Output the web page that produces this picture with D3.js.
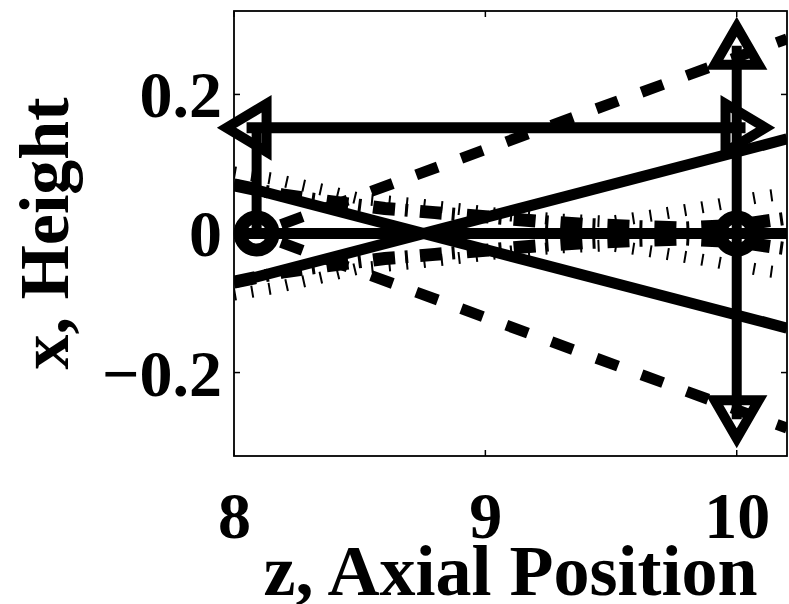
<!DOCTYPE html>
<html><head><meta charset="utf-8">
<script src="https://cdn.jsdelivr.net/npm/d3@7"></script>
<style>
body{margin:0;background:#fff}
text{font-family:"Liberation Serif","Times New Roman",serif;font-weight:bold;fill:#000}
</style>
</head><body>
<svg id="c" width="789" height="604"></svg>
<script>
// ---- data ----
const xTicks = [8, 9, 10];
const xTickLabels = ["8", "9", "10"];
const yTicks = [-0.2, 0, 0.2];
const yTickLabels = ["\u22120.2", "0", "0.2"];
const xLabel = "z, Axial Position";
const yLabel = "x, Height";

const axisZ = [8, 10.2];
const axisX = [0, 0];

const rayZ = [8, 10.2];
const rayDownX = [0.071, -0.136];
const rayUpX = [-0.071, 0.136];

const coneZ = [8.09, 10.2];
const coneUpX = [0, 0.28];
const coneDownX = [0, -0.28];

const dotZ = [8.0, 8.15, 8.35, 8.5, 8.7, 8.9, 9.1, 9.3, 9.5, 9.7, 9.9, 10.1, 10.2];
const dotUpX = [0.088, 0.079, 0.063, 0.05, 0.043, 0.035, 0.026, 0.02, 0.017, 0.028, 0.04, 0.053, 0.058];
const dotDownX = [-0.088, -0.079, -0.063, -0.05, -0.043, -0.035, -0.026, -0.02, -0.017, -0.028, -0.04, -0.053, -0.058];

const blockZ = [8.0, 8.2, 8.4, 8.6, 8.8, 9.0, 9.2, 9.4, 9.6, 9.8, 10.0, 10.2];
const blockUpX = [0.07, 0.055, 0.045, 0.036, 0.03, 0.024, 0.018, 0.013, 0.01, 0.008, 0.012, 0.022];
const blockDownX = [-0.07, -0.055, -0.045, -0.036, -0.03, -0.024, -0.018, -0.013, -0.01, -0.008, -0.012, -0.022];

const objectZ = [8.09, 8.09];
const objectX = [0, 0.152];
const spanZ = [8.05, 10.035];
const spanX = [0.152, 0.152];
const imageZ = [10, 10];
const imageX = [-0.267, 0.27];
const circleZ = [8.09, 10];
const circleX = [0, 0];

// ---- layout ----
const L = 234, R = 787, T = 11, B = 456;
const x = d3.scaleLinear().domain([8, 10.2]).range([L, R]);
const y = d3.scaleLinear().domain([-0.32, 0.32]).range([B, T]);
const svg = d3.select("#c");

svg.append("defs").append("clipPath").attr("id", "clip")
  .append("rect").attr("x", L).attr("y", T).attr("width", R - L).attr("height", B - T);

const plot = svg.append("g").attr("clip-path", "url(#clip)");
const line = d3.line().x(d => x(d[0])).y(d => y(d[1]));
const pts = (zs, xs) => zs.map((z, i) => [z, xs[i]]);

function drawLine(zs, xs, w, dash, offset) {
  const p = plot.append("path").datum(pts(zs, xs)).attr("d", line)
    .attr("fill", "none").attr("stroke", "#000").attr("stroke-width", w)
    .attr("stroke-linecap", "butt").attr("stroke-linejoin", "miter");
  if (dash) p.attr("stroke-dasharray", dash).attr("stroke-dashoffset", offset || 0);
  return p;
}

drawLine(axisZ, axisX, 11);
drawLine(rayZ, rayDownX, 11);
drawLine(rayZ, rayUpX, 11);
drawLine(coneZ, coneUpX, 11, "23 25", 22);
drawLine(coneZ, coneDownX, 11, "23 25", 22);
drawLine(dotZ, dotUpX, 12, "2 15.5");
drawLine(dotZ, dotDownX, 12, "2 15.5");
drawLine(blockZ, blockUpX, 13, "22 10 3 12", 0);
drawLine(blockZ, blockDownX, 13, "22 10 3 12", 0);
drawLine(objectZ, objectX, 10);
drawLine(spanZ, spanX, 11);
drawLine(imageZ, imageX, 10);

// ---- markers (not clipped) ----
const mk = svg.append("g").attr("fill", "none").attr("stroke", "#000").attr("stroke-linejoin", "miter");
circleZ.forEach((z, i) => {
  mk.append("circle").attr("cx", x(z)).attr("cy", y(circleX[i])).attr("r", 16.5).attr("stroke-width", 13);
});
function tri(cx, cy, shape) {
  let d;
  if (shape === "<") d = `M${cx-20},${cy} L${cx+20},${cy-24} L${cx+20},${cy+24} Z`;
  if (shape === ">") d = `M${cx+20},${cy} L${cx-20},${cy-24} L${cx-20},${cy+24} Z`;
  if (shape === "^") d = `M${cx},${cy-19} L${cx+22},${cy+19} L${cx-22},${cy+19} Z`;
  if (shape === "v") d = `M${cx},${cy+19} L${cx+22},${cy-19} L${cx-22},${cy-19} Z`;
  mk.append("path").attr("d", d).attr("stroke-width", 10);
}
tri(x(spanZ[0]), y(spanX[0]), "<");
tri(x(spanZ[1]), y(spanX[1]), ">");
tri(x(imageZ[1]), y(imageX[1]), "^");
tri(x(imageZ[0]), y(imageX[0]), "v");

// ---- axes box and ticks ----
const ax = svg.append("g");
ax.append("rect").attr("x", L).attr("y", T).attr("width", R - L).attr("height", B - T)
  .attr("fill", "none").attr("stroke", "#000").attr("stroke-width", 1.8);

const gx = ax.append("g").attr("transform", `translate(0,${B})`)
  .call(d3.axisBottom(x).tickValues(xTicks).tickSize(0).tickFormat((d, i) => xTickLabels[i]).tickPadding(0));
gx.select(".domain").remove();
gx.selectAll("text").attr("dy", null).attr("y", 82).style("font-size", "66px")
  .style("font-family", '"Liberation Serif","Times New Roman",serif').style("font-weight", "bold");

const gy = ax.append("g").attr("transform", `translate(${L},0)`)
  .call(d3.axisLeft(y).tickValues(yTicks).tickSize(0).tickFormat((d, i) => yTickLabels[i]).tickPadding(0));
gy.select(".domain").remove();
gy.selectAll("text").attr("x", -12).attr("dy", "0.34em").style("font-size", "66px")
  .style("font-family", '"Liberation Serif","Times New Roman",serif').style("font-weight", "bold");

xTicks.forEach(t => {
  ax.append("line").attr("x1", x(t)).attr("x2", x(t)).attr("y1", B).attr("y2", B - 6).attr("stroke", "#000").attr("stroke-width", 1.5);
  ax.append("line").attr("x1", x(t)).attr("x2", x(t)).attr("y1", T).attr("y2", T + 6).attr("stroke", "#000").attr("stroke-width", 1.5);
});
yTicks.forEach(t => {
  ax.append("line").attr("x1", L).attr("x2", L + 6).attr("y1", y(t)).attr("y2", y(t)).attr("stroke", "#000").attr("stroke-width", 1.5);
  ax.append("line").attr("x1", R).attr("x2", R - 6).attr("y1", y(t)).attr("y2", y(t)).attr("stroke", "#000").attr("stroke-width", 1.5);
});

svg.append("text").attr("x", (L + R) / 2).attr("y", 595).attr("text-anchor", "middle")
  .style("font-size", "72px").text(xLabel);
svg.append("text").attr("transform", `translate(68,${(T + B) / 2}) rotate(-90)`).attr("text-anchor", "middle")
  .style("font-size", "70px").text(yLabel);
</script>
</body></html>
